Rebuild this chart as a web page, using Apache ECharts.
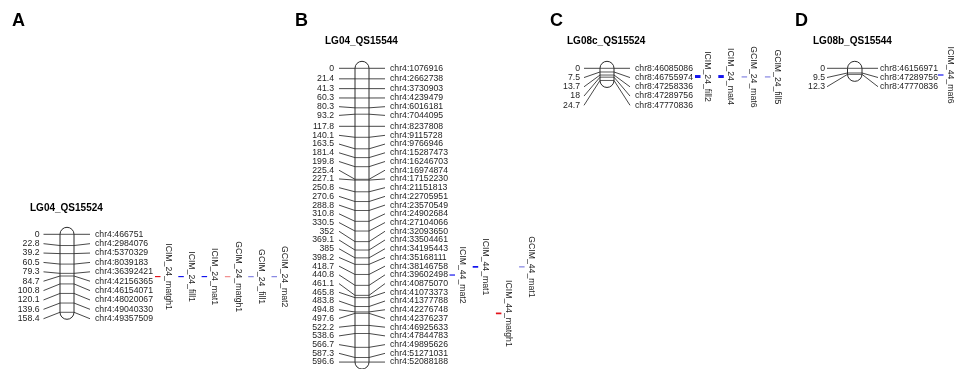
<!DOCTYPE html>
<html><head><meta charset="utf-8">
<script src="https://cdn.jsdelivr.net/npm/echarts@6.0.0/dist/echarts.min.js"></script>
<style>html,body{margin:0;padding:0;background:#fff}#c{width:957px;height:369px}</style>
</head><body><div id="c"></div>
<script>
// ---------- DATA ----------
const panelLetters = ['A', 'B', 'C', 'D'];
const panelTitles = ['LG04_QS15524', 'LG04_QS15544', 'LG08c_QS15524', 'LG08b_QS15544'];

const markersA_cM = [0, 22.8, 39.2, 60.5, 79.3, 84.7, 100.8, 120.1, 139.6, 158.4];
const markersA_id = ['chr4:466751', 'chr4:2984076', 'chr4:5370329', 'chr4:8039183', 'chr4:36392421',
  'chr4:42156365', 'chr4:46154071', 'chr4:48020067', 'chr4:49040330', 'chr4:49357509'];

const markersB_cM = [0, 21.4, 41.3, 60.3, 80.3, 93.2, 117.8, 140.1, 163.5, 181.4, 199.8, 225.4,
  227.1, 250.8, 270.6, 288.8, 310.8, 330.5, 352, 369.1, 385, 398.2, 418.7, 440.8,
  461.1, 465.8, 483.8, 494.8, 497.6, 522.2, 538.6, 566.7, 587.3, 596.6];
const markersB_id = ['chr4:1076916', 'chr4:2662738', 'chr4:3730903', 'chr4:4239479', 'chr4:6016181',
  'chr4:7044095', 'chr4:8237808', 'chr4:9115728', 'chr4:9766946', 'chr4:15287473', 'chr4:16246703',
  'chr4:16974874', 'chr4:17152230', 'chr4:21151813', 'chr4:22705951', 'chr4:23570549', 'chr4:24902684',
  'chr4:27104066', 'chr4:32093650', 'chr4:33504461', 'chr4:34195443', 'chr4:35168111', 'chr4:38146758',
  'chr4:39602498', 'chr4:40875070', 'chr4:41073373', 'chr4:41377788', 'chr4:42276748', 'chr4:42376237',
  'chr4:46925633', 'chr4:47844783', 'chr4:49895626', 'chr4:51271031', 'chr4:52088188'];

const markersC_cM = [0, 7.5, 13.7, 18, 24.7];
const markersC_id = ['chr8:46085086', 'chr8:46755974', 'chr8:47258336', 'chr8:47289756', 'chr8:47770836'];

const markersD_cM = [0, 9.5, 12.3];
const markersD_id = ['chr8:46156971', 'chr8:47289756', 'chr8:47770836'];

const qtlA_name = ['ICIM_24_matgh1', 'ICIM_24_fill1', 'ICIM_24_mat1', 'GCIM_24_matgh1', 'GCIM_24_fill1', 'GCIM_24_mat2'];
const qtlA_start = [84.7, 84.7, 84.7, 85.0, 85.0, 85.0];
const qtlA_end = [87.0, 87.0, 87.0, 87.0, 87.0, 87.0];

const qtlB_name = ['ICIM_44_mat2', 'ICIM_44_mat1', 'ICIM_44_matgh1', 'GCIM_44_mat1'];
const qtlB_start = [418.7, 401.5, 496.0, 402.0];
const qtlB_end = [421.0, 405.0, 499.5, 404.5];

const qtlC_name = ['ICIM_24_fill2', 'ICIM_24_mat4', 'GCIM_24_mat6', 'GCIM_24_fill5'];
const qtlC_start = [13.7, 13.7, 16.5, 16.5];
const qtlC_end = [19.7, 19.7, 18.5, 18.5];

const qtlD_name = ['ICIM_44_mat6'];
const qtlD_start = [12.6];
const qtlD_end = [14.6];

// ---------- LAYOUT / STYLE ----------
const SCALE = 0.4924; // px per cM
const FONT = '"Liberation Sans", Arial, Helvetica, sans-serif';
const layouts = [
  {letterX: 12, titleX: 30, titleY: 208.3, y0: 234.3, chromL: 60, chromR: 74, lTextR: 39.5, lConn: 43.5, rConn: 90, rText: 95, gap: 9.38, qX0: 155, qDx: 23.3, qTx: 13},
  {letterX: 295, titleX: 325, titleY: 41.7, y0: 68.3, chromL: 355, chromR: 369, lTextR: 334, lConn: 339, rConn: 385, rText: 390, gap: 8.72, qX0: 449.5, qDx: 23.2, qTx: 12.5},
  {letterX: 550, titleX: 567, titleY: 41.7, y0: 68.3, chromL: 600, chromR: 614, lTextR: 580, lConn: 584, rConn: 630, rText: 635, gap: 9.25, qX0: 695, qDx: 23.3, qTx: 12},
  {letterX: 795, titleX: 813, titleY: 41.7, y0: 68.3, chromL: 847.5, chromR: 862, lTextR: 825, lConn: 827, rConn: 878, rText: 880, gap: 9.2, qX0: 938, qDx: 23.3, qTx: 12.5}
];
const CAP = 7;

function qtlColor(name) {
  const icim = name.indexOf('ICIM') === 0;
  const gh = name.indexOf('matgh') >= 0;
  if (icim) return gh ? '#e3121a' : '#1414ee';
  return gh ? '#f28c8c' : '#8484e2';
}

function spread(ys, d, lo, hi) {
  let groups = ys.map(y => ({ys: [y]}));
  const topOf = g => g.ys.reduce((a, b) => a + b, 0) / g.ys.length - (g.ys.length - 1) * d / 2;
  let changed = true;
  while (changed) {
    changed = false;
    for (let i = 0; i < groups.length - 1; i++) {
      const a = groups[i], b = groups[i + 1];
      if (topOf(b) < topOf(a) + a.ys.length * d - 1e-9) {
        groups.splice(i, 2, {ys: a.ys.concat(b.ys)});
        changed = true;
        break;
      }
    }
  }
  const out = [];
  groups.forEach(g => { const t = topOf(g); g.ys.forEach((_, k) => out.push(t + k * d)); });
  const n = out.length;
  out[n - 1] = Math.min(out[n - 1], hi);
  for (let k = n - 2; k >= 0; k--) out[k] = Math.min(out[k], out[k + 1] - d);
  out[0] = Math.max(out[0], lo);
  for (let k = 1; k < n; k++) out[k] = Math.max(out[k], out[k - 1] + d);
  return out;
}

const panels = [
  {cM: markersA_cM, ids: markersA_id, qn: qtlA_name, qs: qtlA_start, qe: qtlA_end},
  {cM: markersB_cM, ids: markersB_id, qn: qtlB_name, qs: qtlB_start, qe: qtlB_end},
  {cM: markersC_cM, ids: markersC_id, qn: qtlC_name, qs: qtlC_start, qe: qtlC_end},
  {cM: markersD_cM, ids: markersD_id, qn: qtlD_name, qs: qtlD_start, qe: qtlD_end}
];

const grid = [], xAxis = [], yAxis = [], series = [], graphic = [];
panels.forEach((p, i) => {
  const L = layouts[i];
  const maxc = Math.max.apply(null, p.cM);
  grid.push({left: 0, top: L.y0, width: 957, height: maxc * SCALE, containLabel: false});
  xAxis.push({gridIndex: i, type: 'value', min: 0, max: 957, show: false});
  yAxis.push({gridIndex: i, type: 'value', inverse: true, min: 0, max: maxc, show: false});

  // marker lines, connectors and labels
  series.push({
    type: 'custom', xAxisIndex: i, yAxisIndex: i, clip: false, silent: true, z: 2,
    data: p.cM.map((v, k) => [k, v]),
    renderItem(params, api) {
      const k = params.dataIndex;
      const ys = p.cM.map(v => api.coord([0, v])[1]);
      const lab = spread(ys, L.gap, ys[0], ys[ys.length - 1]);
      const y = api.coord([0, api.value(1)])[1];
      const ly = lab[k];
      const ts = {fontSize: 8.7, fontFamily: FONT, fill: '#1e1e1e', verticalAlign: 'middle'};
      return {type: 'group', children: [
        {type: 'line', shape: {x1: L.chromL, y1: y, x2: L.chromR, y2: y}, style: {stroke: '#5a5a5a', lineWidth: 1}},
        {type: 'line', shape: {x1: L.lConn, y1: ly, x2: L.chromL, y2: y}, style: {stroke: '#333', lineWidth: 0.9}},
        {type: 'line', shape: {x1: L.chromR, y1: y, x2: L.rConn, y2: ly}, style: {stroke: '#333', lineWidth: 0.9}},
        {type: 'text', x: L.lTextR, y: ly, style: Object.assign({text: String(p.cM[k]), align: 'right'}, ts)},
        {type: 'text', x: L.rText, y: ly, style: Object.assign({text: p.ids[k], align: 'left'}, ts)}
      ]};
    }
  });

  // chromosome body
  series.push({
    type: 'custom', xAxisIndex: i, yAxisIndex: i, clip: false, silent: true, z: 3,
    data: [[0, 0, maxc]],
    renderItem(params, api) {
      const a = api.coord([L.chromL, api.value(1)]);
      const b = api.coord([L.chromR, api.value(2)]);
      const w = b[0] - a[0];
      return {type: 'rect', shape: {x: a[0], y: a[1] - CAP, width: w, height: b[1] - a[1] + 2 * CAP, r: w / 2},
        style: {fill: 'none', stroke: '#2a2a2a', lineWidth: 1}};
    }
  });

  // QTLs
  series.push({
    type: 'custom', xAxisIndex: i, yAxisIndex: i, clip: false, silent: true, z: 4,
    data: p.qn.map((n, k) => [k, p.qs[k], p.qe[k]]),
    renderItem(params, api) {
      const k = api.value(0);
      const name = p.qn[params.dataIndex];
      const x = L.qX0 + k * L.qDx;
      const y1 = api.coord([x, api.value(1)])[1];
      const y2 = api.coord([x, api.value(2)])[1];
      const h = Math.max(y2 - y1, 1.2);
      const yc = (y1 + y2) / 2;
      return {type: 'group', children: [
        {type: 'rect', shape: {x: x, y: yc - h / 2, width: 5.5, height: h}, style: {fill: qtlColor(name)}},
        {type: 'text', x: x + L.qTx, y: yc, rotation: -Math.PI / 2,
          style: {text: name, align: 'center', verticalAlign: 'middle', fontSize: 8.7, fontFamily: FONT, fill: '#1e1e1e'}}
      ]};
    }
  });

  graphic.push({type: 'text', x: L.letterX, y: 21, style: {text: panelLetters[i], fontSize: 18, fontWeight: 'bold', fontFamily: FONT, fill: '#000', verticalAlign: 'middle', align: 'left'}});
  graphic.push({type: 'text', x: L.titleX, y: L.titleY, style: {text: panelTitles[i], fontSize: 10, fontWeight: 'bold', fontFamily: FONT, fill: '#000', verticalAlign: 'middle', align: 'left'}});
});

const chart = echarts.init(document.getElementById('c'), null, {renderer: 'canvas'});
chart.setOption({
  animation: false,
  backgroundColor: '#fff',
  grid, xAxis, yAxis, series, graphic
});
</script>
</body></html>
